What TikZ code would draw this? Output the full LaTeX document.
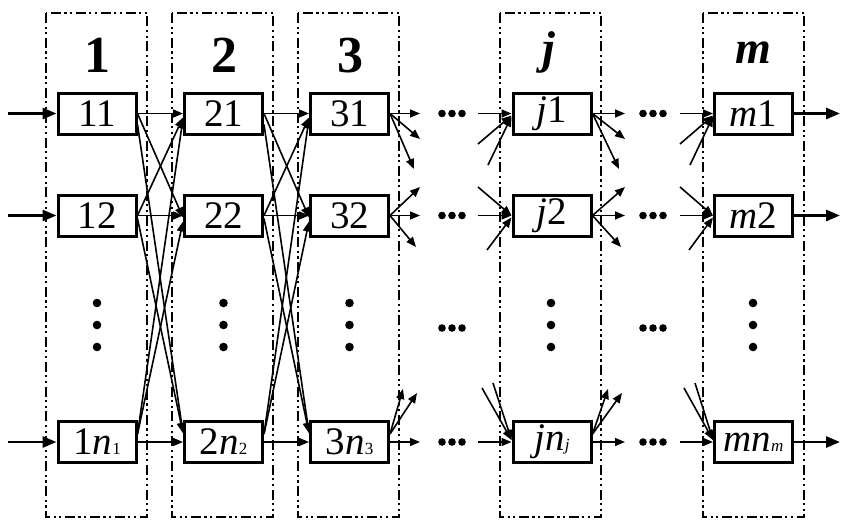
\documentclass[tikz,border=0pt]{standalone}
\usepackage{fontspec}
\setmainfont{Liberation Serif}
\usetikzlibrary{arrows.meta}
\newcommand\lowsub[1]{{\fontsize{17}{17}\selectfont #1}}
\begin{document}
\begin{tikzpicture}[x=1pt,y=-1pt,
  box/.style={draw,line width=3pt,minimum width=78pt,minimum height=41pt,inner sep=0pt,font=\fontsize{39}{39}\selectfont},
  col/.style={line width=2.2pt,dash pattern=on 10pt off 3.5pt on 2.2pt off 3.5pt on 2.2pt off 3.5pt},
  con/.style={line width=1.6pt,-{Triangle[length=10pt,width=8pt]}},
  bigarrow/.style={line width=2.8pt,-{Triangle[length=14pt,width=11pt]}},
  lab/.style={anchor=base,font=\fontsize{52}{52}\selectfont\bfseries},
  ilab/.style={anchor=base,font=\fontsize{46}{46}\selectfont\bfseries\itshape},
  dot/.style={radius=4.3pt}
]
\useasboundingbox (0,0) rectangle (842,520);
% column frames
\foreach \xa in {46,172,298,500,703}
  \draw[col] (\xa,13) rectangle (\xa+101,517);
% column labels
\node[lab] (L1) at (97,72) {1};
\node[lab] (L2) at (224,72) {2};
\node[lab] (L3) at (350,72) {3};
\node[ilab] (Lj) at (549,63) {j};
\node[ilab] (Lm) at (753,63) {m};
% nodes
\node[box] (n11) at (97,113.5) {11};
\node[box] (n12) at (97,215.5) {12};
\node[box] (n1n) at (97,442) {1\textit{n}\lowsub{1}};
\node[box] (n21) at (223.5,113.5) {21};
\node[box] (n22) at (223.5,215.5) {22};
\node[box] (n2n) at (223.5,442) {2\textit{n}\lowsub{2}};
\node[box] (n31) at (349.5,113.5) {31};
\node[box] (n32) at (349.5,215.5) {32};
\node[box] (n3n) at (349.5,442) {3\textit{n}\lowsub{3}};
\node[box] (nj1) at (552,113.5) {\textit{j}1};
\node[box] (nj2) at (552,215.5) {\textit{j}2};
\node[box] (njn) at (552,442) {\textit{jn}\lowsub{\textit{j}}};
\node[box] (nm1) at (753.5,113.5) {\textit{m}1};
\node[box] (nm2) at (753.5,215.5) {\textit{m}2};
\node[box] (nmn) at (753.5,442) {\textit{mn}\lowsub{\textit{m}}};
% vertical dots
\foreach \xa in {97,223.5,349.5,551,753}
  \foreach \ya in {303,325,347}
    \fill (\xa,\ya) circle[dot];
% horizontal dots
\foreach \xa in {452,653}
  \foreach \ya in {113.5,215.5,328,442}
    \foreach \d in {-10,0,10}
      \fill (\xa+\d,\ya) circle[radius=3.8pt];
% input arrows
\coordinate (i1) at (8,113.5);
\coordinate (i2) at (8,215.5);
\coordinate (i3) at (8,442);
\draw[bigarrow] (i1) -- (n11.west);
\draw[bigarrow] (i2) -- (n12.west);
\draw[bigarrow] (i3) -- (n1n.west);
% full connections between columns 1-2 and 2-3
\foreach \k/\l in {1/2,2/3}{
  \draw[con] (n\k1.east) -- (n\l1.west);
  \draw[con] (n\k1.east) -- ([yshift=-2pt]n\l2.west);
  \draw[con] ([yshift=-11pt]n\k1.east) -- ([yshift=9pt]n\l n.west);
  \draw[con] (n\k2.east) -- ([yshift=-4pt]n\l1.west);
  \draw[con] (n\k2.east) -- (n\l2.west);
  \draw[con] ([yshift=-3pt]n\k2.east) -- ([yshift=9pt]n\l n.west);
  \draw[con] ([yshift=8pt]n\k n.east) -- ([yshift=-5pt]n\l1.west);
  \draw[con] ([yshift=8pt]n\k n.east) -- ([yshift=-6pt]n\l2.west);
  \draw[con] (n\k n.east) -- (n\l n.west);
}
% outputs of column 3 and column j
\foreach \c/\o in {3/0,j/205}{
  \coordinate (o\c a) at (420+\o,113.5);
  \coordinate (o\c b) at (420+\o,139);
  \coordinate (o\c c) at (414+\o,169);
  \coordinate (o\c d) at (420+\o,187);
  \coordinate (o\c e) at (420+\o,215.5);
  \coordinate (o\c f) at (416+\o,247);
  \coordinate (o\c g) at (403+\o,389);
  \coordinate (o\c h) at (417+\o,393);
  \coordinate (o\c i) at (420+\o,442);
  \draw[con] (n\c1.east) -- (o\c a);
  \draw[con] (n\c1.east) -- (o\c b);
  \draw[con] (n\c1.east) -- (o\c c);
  \draw[con] (n\c2.east) -- (o\c d);
  \draw[con] (n\c2.east) -- (o\c e);
  \draw[con] (n\c2.east) -- (o\c f);
  \draw[con] ([yshift=8pt]n\c n.east) -- (o\c g);
  \draw[con] ([yshift=8pt]n\c n.east) -- (o\c h);
  \draw[con] (n\c n.east) -- (o\c i);
}
% inputs of column j and column m
\foreach \c/\o in {j/0,m/202}{
  \coordinate (p\c a) at (478+\o,113.5);
  \coordinate (p\c b) at (478+\o,144);
  \coordinate (p\c c) at (488+\o,165);
  \coordinate (p\c d) at (478+\o,187);
  \coordinate (p\c e) at (478+\o,215.5);
  \coordinate (p\c f) at (487+\o,250);
  \coordinate (p\c g) at (482+\o,388);
  \coordinate (p\c h) at (493+\o,383);
  \coordinate (p\c i) at (478+\o,442);
  \draw[con] (p\c a) -- (n\c1.west);
  \draw[con] (p\c b) -- ([yshift=-2pt]n\c1.west);
  \draw[con] (p\c c) -- ([yshift=-3pt]n\c1.west);
  \draw[con] (p\c d) -- (n\c2.west);
  \draw[con] (p\c e) -- (n\c2.west);
  \draw[con] (p\c f) -- ([yshift=-2pt]n\c2.west);
  \draw[con] (p\c g) -- ([yshift=2pt]n\c n.west);
  \draw[con] (p\c h) -- ([yshift=2pt]n\c n.west);
  \draw[con] (p\c i) -- (n\c n.west);
}
% outputs of column m
\coordinate (q1) at (840,113.5);
\coordinate (q2) at (840,215.5);
\coordinate (q3) at (840,442);
\draw[bigarrow] (nm1.east) -- (q1);
\draw[bigarrow] (nm2.east) -- (q2);
\draw[bigarrow] (nmn.east) -- (q3);
\end{tikzpicture}
\end{document}
